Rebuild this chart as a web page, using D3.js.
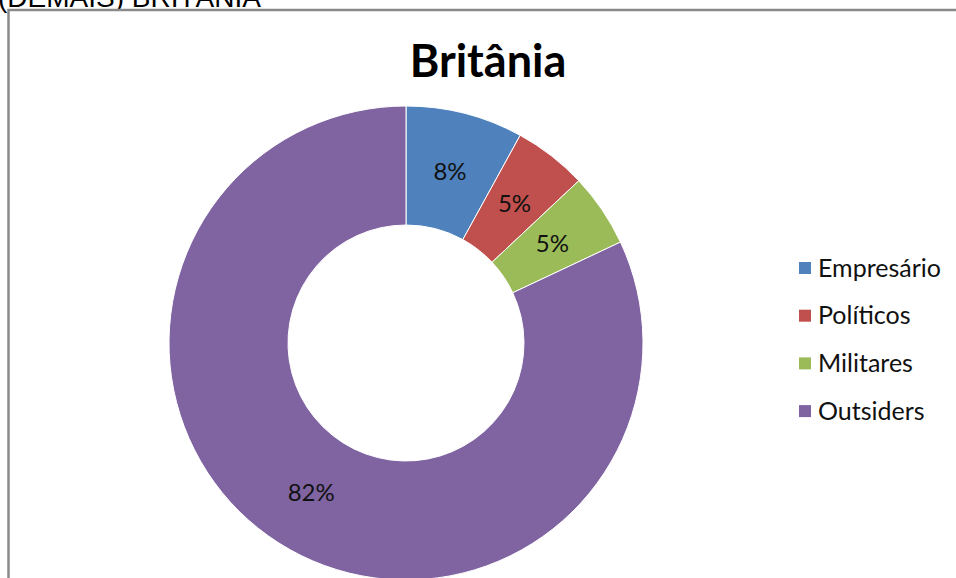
<!DOCTYPE html>
<html>
<head>
<meta charset="utf-8">
<script src="https://cdn.jsdelivr.net/npm/d3@7"></script>
<style>
  body { margin: 0; background: #fff; overflow: hidden; }
</style>
</head>
<body>
<svg width="956" height="578"></svg>
<script>
const categories = ["Empresário", "Políticos", "Militares", "Outsiders"];
const values = [8, 5, 5, 82];
const colors = ["#4F81BD", "#C0504D", "#9BBB59", "#8064A2"];

const svg = d3.select("svg");
const width = +svg.attr("width");
const height = +svg.attr("height");

const labelFont = "Lato, 'Open Sans', sans-serif";

// heading cut off at the top of the picture
svg.append("text")
    .attr("x", -2)
    .attr("y", 7)
    .style("font-family", "'Liberation Sans', Arial, sans-serif")
    .style("font-size", "28px")
    .style("fill", "#000")
    .text("(DEMAIS) BRITÂNIA");

// chart frame
svg.append("rect")
    .attr("x", 8.5)
    .attr("y", 10)
    .attr("width", 1000)
    .attr("height", 1000)
    .style("fill", "#fff")
    .style("stroke", "#8a8a8a")
    .style("stroke-width", 2.5);

svg.append("text")
    .attr("x", 488)
    .attr("y", 77)
    .attr("text-anchor", "middle")
    .style("font-family", labelFont)
    .style("font-weight", "bold")
    .style("font-size", "45px")
    .text("Britânia");

const cx = 406, cy = 343;
const outerR = 237, innerR = 118;

const pie = d3.pie().sort(null).value(d => d.value);
const arcs = pie(categories.map((c, i) => ({ name: c, value: values[i] })));

const arc = d3.arc().innerRadius(innerR).outerRadius(outerR);
const labelArc = d3.arc().innerRadius(177).outerRadius(177);

const g = svg.append("g").attr("transform", `translate(${cx},${cy})`);

g.selectAll("path")
    .data(arcs)
    .enter().append("path")
        .attr("d", arc)
        .style("fill", (d, i) => colors[i])
        .style("stroke", "#fff")
        .style("stroke-width", 1);

g.selectAll(".lbl")
    .data(arcs)
    .enter().append("text")
        .attr("class", "lbl")
        .attr("transform", d => `translate(${labelArc.centroid(d)})`)
        .attr("text-anchor", "middle")
        .attr("dy", "0.35em")
        .style("font-family", labelFont)
        .style("font-size", "24px")
        .style("fill", "#111")
        .text(d => d.data.value + "%");

// legend
const legend = svg.append("g").attr("transform", "translate(799,268)");
const rowH = 47.7;

legend.selectAll("rect")
    .data(categories)
    .enter().append("rect")
        .attr("x", 0)
        .attr("y", (d, i) => i * rowH - 6)
        .attr("width", 12)
        .attr("height", 12)
        .style("fill", (d, i) => colors[i]);

legend.selectAll("text")
    .data(categories)
    .enter().append("text")
        .attr("x", 19)
        .attr("y", (d, i) => i * rowH)
        .attr("dy", "0.35em")
        .style("font-family", labelFont)
        .style("font-size", "25px")
        .style("fill", "#111")
        .text(d => d);
</script>
</body>
</html>
